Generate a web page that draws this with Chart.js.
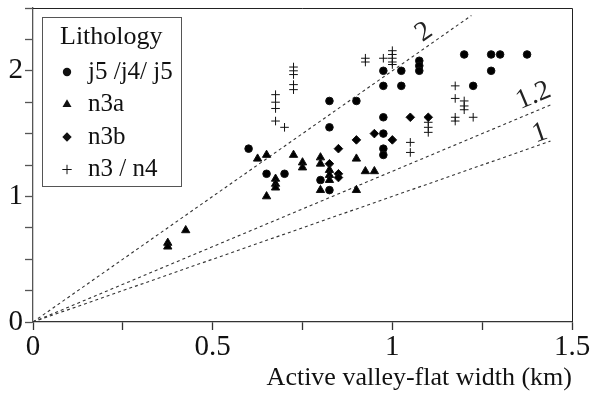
<!DOCTYPE html>
<html>
<head>
<meta charset="utf-8">
<script src="https://cdn.jsdelivr.net/npm/chart.js@4/dist/chart.umd.min.js"></script>
<style>
  body { margin: 0; background: #fff; }
</style>
</head>
<body>
<canvas id="chart" width="599" height="396"></canvas>
<script>
// Valley-flat width scatter by lithology

const seriesNames = ['j5 /j4/ j5', 'n3a', 'n3b', 'n3 / n4'];
const seriesStyles = ['circle', 'triangle', 'rectRot', 'cross'];

const circleX = [0.60, 0.65, 0.70, 0.80, 0.825, 0.825, 0.825, 0.90, 0.975, 0.975, 0.975, 0.975, 0.975, 0.975, 1.025, 1.025, 1.075, 1.075, 1.075, 1.20, 1.225, 1.275, 1.30, 1.275, 1.375];
const circleY = [1.38, 1.18, 1.18, 1.13, 1.05, 1.55, 1.76, 1.76, 2.00, 1.88, 1.63, 1.50, 1.38, 1.33, 2.00, 1.88, 2.08, 2.04, 2.00, 2.13, 1.88, 2.13, 2.13, 2.00, 2.13];

const triangleX = [0.375, 0.375, 0.425, 0.625, 0.65, 0.65, 0.675, 0.675, 0.675, 0.725, 0.75, 0.75, 0.80, 0.80, 0.80, 0.825, 0.825, 0.825, 0.90, 0.90, 0.925, 0.95];
const triangleY = [0.63, 0.60, 0.73, 1.30, 1.33, 1.00, 1.14, 1.10, 1.07, 1.33, 1.27, 1.23, 1.31, 1.26, 1.05, 1.21, 1.17, 1.13, 1.30, 1.05, 1.20, 1.20];

const diamondX = [0.825, 0.85, 0.85, 0.85, 0.90, 0.95, 1.00, 1.05, 1.10];
const diamondY = [1.26, 1.38, 1.18, 1.15, 1.45, 1.50, 1.45, 1.63, 1.63];

const crossX = [0.675, 0.675, 0.675, 0.675, 0.70, 0.725, 0.725, 0.725, 0.725, 0.725, 0.925, 0.925, 0.975, 1.00, 1.00, 1.00, 1.00, 1.00, 1.05, 1.05, 1.10, 1.10, 1.10, 1.175, 1.175, 1.20, 1.20, 1.20, 1.175, 1.175, 1.225];
const crossY = [1.81, 1.75, 1.70, 1.60, 1.55, 2.03, 2.00, 1.97, 1.89, 1.85, 2.10, 2.07, 2.10, 2.16, 2.13, 2.10, 2.07, 2.05, 1.43, 1.35, 1.59, 1.55, 1.51, 1.88, 1.78, 1.76, 1.72, 1.69, 1.63, 1.60, 1.63];

// reference ratio lines y = k * x
const ratioSlopes = [2, 1.2, 1];
const ratioLabels = ['2', '1.2', '1'];
const ratioEnds = [1.22, 1.44, 1.44];

const xTickLabels = [0, 0.5, 1, 1.5];
const yTickLabels = [0, 1, 2];

const serif = '"Liberation Serif", "Times New Roman", serif';

function toPoints(xs, ys) {
    return xs.map((x, i) => ({ x: x, y: ys[i] }));
}

const pointSets = [
    toPoints(circleX, circleY),
    toPoints(triangleX, triangleY),
    toPoints(diamondX, diamondY),
    toPoints(crossX, crossY)
];
const radii = [3.8, 4.8, 4.3, 4.3];

const datasets = pointSets.map((pts, i) => ({
    type: 'scatter',
    label: seriesNames[i],
    data: pts,
    pointStyle: seriesStyles[i],
    pointRadius: radii[i],
    backgroundColor: '#000',
    borderColor: '#111',
    borderWidth: 1
}));

ratioSlopes.forEach((k, i) => {
    datasets.push({
        type: 'line',
        label: ratioLabels[i],
        data: [{ x: 0, y: 0 }, { x: ratioEnds[i], y: k * ratioEnds[i] }],
        borderColor: '#333',
        borderWidth: 1.1,
        borderDash: [3, 3],
        pointRadius: 0,
        fill: false
    });
});

// where each ratio label sits along its line, and how far above it
const labelAlong = [1.11, 1.409, 1.421];
const labelOffset = [13.5, 15, 11];

const ratioText = {
    id: 'ratioText',
    afterDatasetsDraw(chart) {
        const ctx = chart.ctx;
        const xs = chart.scales.x, ys = chart.scales.y;
        ctx.save();
        ctx.fillStyle = '#222';
        ctx.font = '28px ' + serif;
        ctx.textAlign = 'center';
        ctx.textBaseline = 'middle';
        ratioSlopes.forEach((k, i) => {
            const xv = labelAlong[i];
            const px = xs.getPixelForValue(xv);
            const py = ys.getPixelForValue(k * xv);
            const ang = Math.atan2(ys.getPixelForValue(k) - ys.getPixelForValue(0),
                                   xs.getPixelForValue(1) - xs.getPixelForValue(0));
            ctx.save();
            ctx.translate(px, py);
            ctx.rotate(ang);
            ctx.fillText(ratioLabels[i], 0, -labelOffset[i]);
            ctx.restore();
        });
        ctx.restore();
    }
};

function drawMarker(ctx, style, x, y, r) {
    ctx.beginPath();
    if (style === 'circle') {
        ctx.arc(x, y, r, 0, Math.PI * 2);
        ctx.fill();
    } else if (style === 'triangle') {
        ctx.moveTo(x, y - r);
        ctx.lineTo(x + r * 0.866, y + r * 0.5);
        ctx.lineTo(x - r * 0.866, y + r * 0.5);
        ctx.closePath();
        ctx.fill();
    } else if (style === 'rectRot') {
        ctx.moveTo(x, y - r);
        ctx.lineTo(x + r, y);
        ctx.lineTo(x, y + r);
        ctx.lineTo(x - r, y);
        ctx.closePath();
        ctx.fill();
    } else {
        ctx.moveTo(x - r, y);
        ctx.lineTo(x + r, y);
        ctx.moveTo(x, y - r);
        ctx.lineTo(x, y + r);
        ctx.stroke();
    }
}

const legendBox = {
    id: 'legendBox',
    afterDraw(chart) {
        const ctx = chart.ctx;
        ctx.save();
        ctx.fillStyle = '#fff';
        ctx.fillRect(42.5, 17.5, 139, 169);
        ctx.strokeStyle = '#555';
        ctx.lineWidth = 1;
        ctx.strokeRect(42.5, 17.5, 139, 169);

        ctx.fillStyle = '#111';
        ctx.strokeStyle = '#111';
        ctx.textBaseline = 'middle';
        ctx.textAlign = 'left';
        ctx.font = '26px ' + serif;
        ctx.fillText('Lithology', 60, 37);

        ctx.font = '25px ' + serif;
        seriesNames.forEach((name, i) => {
            const y = 72 + i * 32.5;
            drawMarker(ctx, seriesStyles[i], 67, y, radii[i] + 0.4);
            ctx.fillText(name, 88, y);
        });
        ctx.restore();
    }
};

const frame = {
    id: 'frame',
    afterDraw(chart) {
        const a = chart.chartArea;
        const ctx = chart.ctx;
        ctx.save();
        ctx.strokeStyle = '#222';
        ctx.lineWidth = 1;
        ctx.beginPath();
        ctx.moveTo(Math.round(a.left), Math.round(a.top) + 0.5);
        ctx.lineTo(Math.round(a.right) + 0.5, Math.round(a.top) + 0.5);
        ctx.lineTo(Math.round(a.right) + 0.5, Math.round(a.bottom));
        ctx.stroke();
        ctx.restore();
    }
};

new Chart(document.getElementById('chart'), {
    data: { datasets: datasets },
    plugins: [ratioText, legendBox, frame],
    options: {
        responsive: false,
        animation: false,
        devicePixelRatio: 1,
        layout: { padding: { top: 8, right: 27, left: 0, bottom: 0 } },
        plugins: {
            legend: { display: false },
            tooltip: { enabled: false }
        },
        scales: {
            x: {
                type: 'linear',
                min: 0,
                max: 1.5,
                border: { color: '#333', width: 1.3 },
                grid: { drawOnChartArea: false, tickLength: 8, color: '#333', tickWidth: 1.3 },
                ticks: {
                    stepSize: 0.25,
                    padding: 0,
                    maxRotation: 0,
                    autoSkip: false,
                    color: '#111',
                    font: { family: serif, size: 29 },
                    callback: v => xTickLabels.includes(v) ? String(v) : ''
                },
                title: {
                    display: true,
                    text: 'Active valley-flat width (km)',
                    align: 'end',
                    color: '#111',
                    font: { family: serif, size: 26 },
                    padding: { top: 0, bottom: 2 }
                },
                afterFit(s) {
                    s.height = 74;
                    s.paddingLeft = 0;
                    s.paddingRight = 0;
                }
            },
            y: {
                type: 'linear',
                min: 0,
                max: 2.5,
                border: { color: '#555', width: 1.3 },
                grid: { drawOnChartArea: false, tickLength: 8, color: '#555', tickWidth: 1.3 },
                ticks: {
                    stepSize: 0.25,
                    padding: 2,
                    crossAlign: 'center',
                    autoSkip: false,
                    color: '#111',
                    font: { family: serif, size: 29 },
                    callback: v => yTickLabels.includes(v) ? String(v) : ''
                },
                afterFit(s) {
                    s.width = 33;
                    s.paddingTop = 0;
                    s.paddingBottom = 0;
                }
            }
        }
    }
});
</script>
</body>
</html>
